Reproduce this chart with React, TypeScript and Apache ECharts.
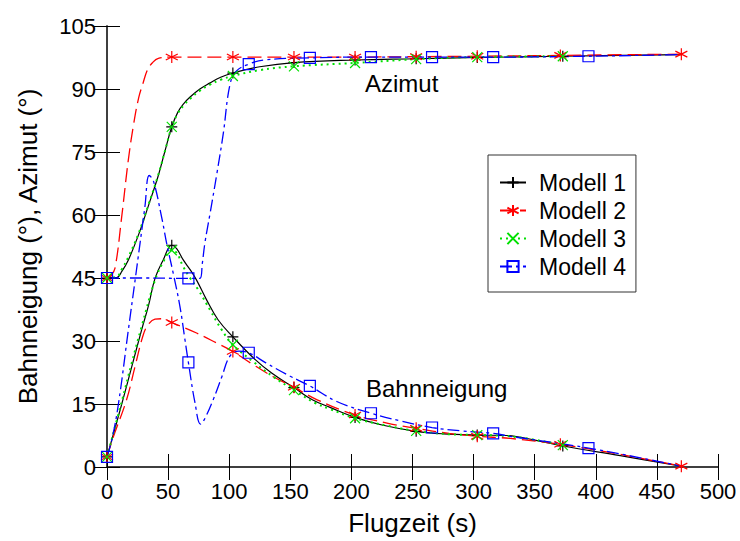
import React, { useEffect, useRef } from "react";
import * as echarts from "echarts";

// ---- data (time in s, angle in degrees) ----
const xTicks = [0, 50, 100, 150, 200, 250, 300, 350, 400, 450, 500];
const yTicks = [0, 15, 30, 45, 60, 75, 90, 105];

const modelNames = ["Modell 1", "Modell 2", "Modell 3", "Modell 4"];

const m1Azimut = [[0,45],[8,45.1],[12,46.5],[17.5,49.3],[25.7,55.2],[34,62.3],[42,69.4],[47.5,75.3],[53,81],[58,84.5],[63,86.6],[68,88.1],[76,90],[84,91.4],[93,92.8],[103,93.8],[125,95.3],[153,96.3],[203,96.9],[253,97.2],[303,97.5],[373,97.8],[470,98.2]];
const m1Bahn = [[0,2.4],[12,14.9],[20,23.6],[28.4,32.7],[34,38.5],[39.3,44.9],[46,49.3],[53,52.8],[57,52],[62.4,49.3],[68,47],[73.3,44.5],[81.5,39.8],[91,35],[103,31],[119.7,26],[135,22.3],[153,18.9],[168,16],[182.5,14.2],[203,11.8],[225,10],[253,8.5],[275,7.9],[303,7.6],[327,7.5],[350,6.4],[373,5],[420,2.7],[470,0.2]];
const m1Markers = [0, 53, 103, 153, 203, 253, 303, 373];

const m2Azimut = [[0,45],[3,45.5],[6.5,47.3],[12,59.5],[17.4,73],[22,82],[26,88],[29.5,91.4],[33,94.5],[37,96.2],[42,97.3],[53,97.6],[103,97.6],[153,97.6],[203,97.6],[253,97.7],[303,97.8],[371,98],[470,98.3]];
const m2Bahn = [[0,2.4],[5,7],[16,16],[23,24],[29.7,31.5],[34,34],[39.3,35.2],[45,35.3],[53,34.4],[73.3,31.9],[89.8,29.5],[103,27.5],[120,24.3],[136,21.5],[153,19],[172,16],[203,12.4],[230,10.4],[253,9.2],[280,8],[303,7.3],[330,6.8],[371,5.4],[420,3],[470,0.2]];
const m2Markers = [0, 53, 103, 153, 203, 253, 303, 371, 470];

const m3Azimut = [[0,45],[8,45.3],[12,47],[17.5,50],[25.7,55.5],[34,62.5],[42,69.6],[47.5,75.3],[53,81],[58,84.2],[63,86.2],[68,87.7],[76,89.6],[84,91],[93,92.2],[103,93.1],[125,94.5],[153,95.4],[203,96.2],[253,97.1],[303,97.6],[373,97.8]];
const m3Bahn = [[0,2.4],[12,15.5],[20,24.5],[28.4,33.5],[39.3,44.5],[46,48.8],[53,51.6],[57,51],[62.4,47.7],[68,45],[74.7,42.2],[84.3,37.4],[93.8,32.7],[103,29.1],[120,25],[136,21.5],[153,18.3],[170,15.3],[182.5,13.8],[203,11.6],[230,9.8],[253,8.6],[280,7.8],[303,7.6],[330,7.3],[373,5.2]];
const m3Markers = [0, 53, 103, 153, 203, 253, 303, 373];

const m4Azimut = [[0,45],[30,45],[66.6,44.9],[76,44.9],[78,48.5],[80.2,53.5],[84.3,60.3],[90,70],[95.2,79.5],[100.6,91],[106,94.3],[116,95.9],[128,96.9],[166,97.4],[216,97.6],[266,97.6],[316,97.6],[394,97.8],[470,98.2]];
const m4Bahn = [[0,2.4],[4,6.5],[9.3,14.9],[17.5,32.7],[23,44.5],[31,61.9],[34.5,69.4],[37.9,68.2],[44.7,59.5],[49,53],[54.3,46],[59.7,38.2],[63.8,30.3],[66.6,24.9],[72,15.3],[76.6,10.2],[80,11.5],[87,16.1],[94,21.5],[100.6,26.4],[108,27.6],[116,27.2],[130,24.8],[150,21.6],[166,19.3],[188,15.6],[216,12.8],[240,11],[266,9.4],[290,8.6],[316,8],[330,7.3],[394,4.5],[470,0.2]];
const m4Markers = [0, 66.6, 116, 166, 216, 266, 316, 394];

const FONT = "Liberation Sans, Arial, sans-serif";

const SYM_PLUS = "path://M0,-6L0,6M-6,0L6,0";
const SYM_STAR = "path://M0,-6L0,6M-5.2,-3L5.2,3M-5.2,3L5.2,-3";
const SYM_X = "path://M-5,-5L5,5M-5,5L5,-5";
const SYM_RECT = "path://M-5,-5L5,-5L5,5L-5,5Z";

const models = [
  { name: modelNames[0], az: m1Azimut, bn: m1Bahn, markers: m1Markers, color: "#000000", dash: "solid" as any, width: 1.2, symbol: SYM_PLUS, size: 11, fill: "#000000" },
  { name: modelNames[1], az: m2Azimut, bn: m2Bahn, markers: m2Markers, color: "#ff0000", dash: [14, 6], width: 1.3, symbol: SYM_STAR, size: 12, fill: "#ff0000" },
  { name: modelNames[2], az: m3Azimut, bn: m3Bahn, markers: m3Markers, color: "#00e000", dash: [2, 4], width: 2, symbol: SYM_X, size: 10, fill: "#00e000" },
  { name: modelNames[3], az: m4Azimut, bn: m4Bahn, markers: m4Markers, color: "#0000ff", dash: [12, 4, 3, 4], width: 1.3, symbol: SYM_RECT, size: 11, fill: "rgba(255,255,255,0)" },
];

function buildData(points: number[][], markers: number[]) {
  return points.map(([t, v]) =>
    markers.indexOf(t) >= 0 ? { value: [t, v] } : { value: [t, v], symbol: "none" }
  );
}

export default function App() {
  const ref = useRef<HTMLDivElement>(null);
  useEffect(() => {
    if (!ref.current) return;
    const chart = echarts.init(ref.current, null, { renderer: "svg" });

    const series: any[] = [];
    models.forEach((m) => {
      [m.az, m.bn].forEach((pts) => {
        series.push({
          name: m.name,
          type: "line",
          xAxisIndex: 0,
          yAxisIndex: 0,
          smooth: 0.4,
          showSymbol: true,
          showAllSymbol: true,
          symbol: m.symbol,
          symbolSize: m.size,
          lineStyle: { color: m.color, width: m.width, type: m.dash },
          itemStyle: { color: m.fill, borderColor: m.color, borderWidth: 1.2, opacity: 1 },
          emphasis: { disabled: true },
          data: buildData(pts, m.markers),
        });
      });
    });

    const axisCommon = {
      type: "value",
      axisLine: { show: true, lineStyle: { color: "#333", width: 1.5 } },
      axisTick: { show: true, inside: true, length: 13, lineStyle: { color: "#000", width: 1 } },
      splitLine: { show: false },
    };

    chart.setOption({
      animation: false,
      textStyle: { fontFamily: FONT },
      grid: { left: 107, right: 22, top: 26, bottom: 73, containLabel: false },
      legend: {
        orient: "vertical",
        left: 488,
        top: 155,
        padding: [14, 10, 12, 11],
        itemWidth: 26,
        itemHeight: 14,
        itemGap: 1,
        borderColor: "#333",
        borderWidth: 1,
        backgroundColor: "#fff",
        data: modelNames,
        textStyle: { fontSize: 23, color: "#000", fontFamily: FONT, lineHeight: 27, padding: [0, 0, 0, 8] },
      },
      xAxis: [
        {
          ...axisCommon,
          position: "bottom",
          min: 0,
          max: 500,
          interval: 50,
          axisLabel: { fontSize: 22, color: "#000", margin: 13, fontFamily: FONT },
          name: "Flugzeit (s)",
          nameLocation: "middle",
          nameGap: 43,
          nameTextStyle: { fontSize: 26, color: "#000", fontFamily: FONT },
        },
        {
          ...axisCommon,
          position: "top",
          min: 0,
          max: 500,
          interval: 50,
          axisLabel: { show: false },
        },
      ],
      yAxis: [
        {
          ...axisCommon,
          position: "left",
          min: 0,
          max: 105,
          interval: 15,
          axisLabel: { fontSize: 22, color: "#000", margin: 11, fontFamily: FONT },
          name: "Bahnneigung (°), Azimut (°)",
          nameLocation: "middle",
          nameGap: 66,
          nameTextStyle: { fontSize: 26, color: "#000", fontFamily: FONT },
        },
        {
          ...axisCommon,
          position: "right",
          min: 0,
          max: 105,
          interval: 15,
          axisLabel: { show: false },
        },
      ],
      graphic: [
        { type: "text", left: 365, top: 71, style: { text: "Azimut", fontSize: 24, fill: "#000", fontFamily: FONT } },
        { type: "text", left: 366, top: 376, style: { text: "Bahnneigung", fontSize: 24, fill: "#000", fontFamily: FONT } },
      ],
      series,
    });
    return () => chart.dispose();
  }, []);

  return (
    <div
      ref={ref}
      style={{ position: "fixed", left: 0, top: 0, width: 740, height: 541, background: "#fff" }}
    />
  );
}
